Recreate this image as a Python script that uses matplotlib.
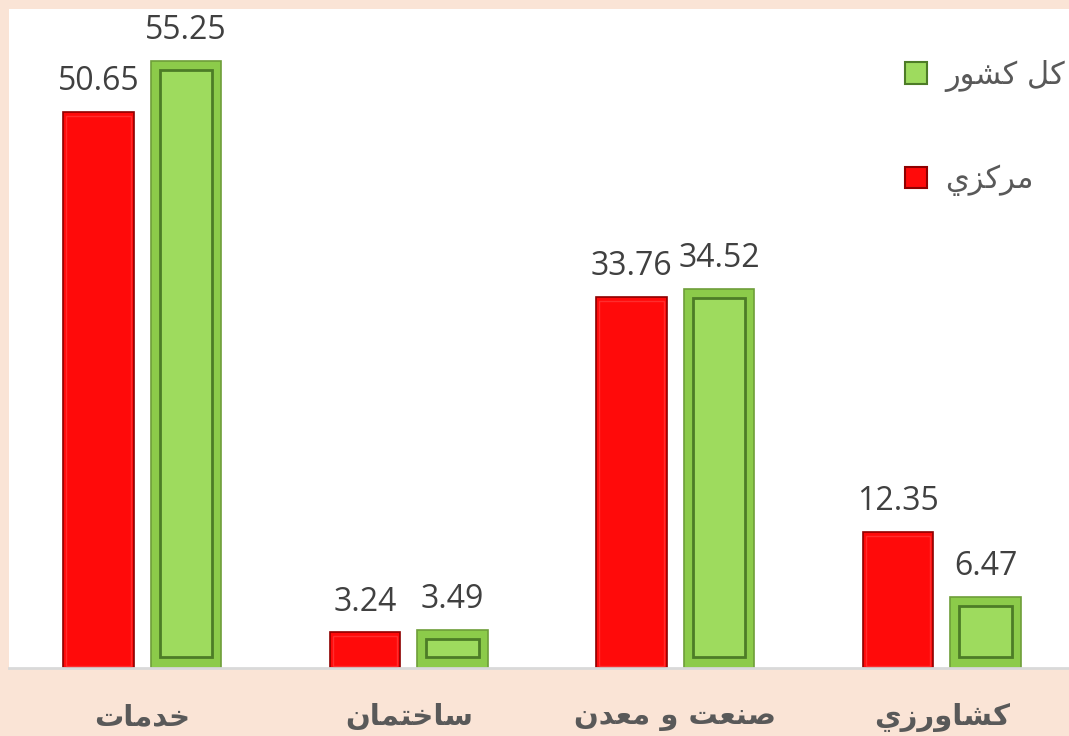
import numpy as np
import matplotlib
matplotlib.use("Agg")
import matplotlib.pyplot as plt
from matplotlib.patches import Patch

# ---------------------------------------------------------------------------
# Data
# ---------------------------------------------------------------------------
categories = ["خدمات", "ساختمان", "صنعت و معدن", "كشاورزي"]
markazi = [50.65, 3.24, 33.76, 12.35]
kol_keshvar = [55.25, 3.49, 34.52, 6.47]
series_names = ["كل كشور", "مركزي"]

# ---------------------------------------------------------------------------
# Minimal Arabic-script shaping (matplotlib has no bidi / joining support)
# (isolated, final, initial, medial); None = letter never joins to the next one
# ---------------------------------------------------------------------------
FORMS = {
    "ا": ("\ufe8d", "\ufe8e", None, None),
    "ت": ("\ufe95", "\ufe96", "\ufe97", "\ufe98"),
    "خ": ("\ufea5", "\ufea6", "\ufea7", "\ufea8"),
    "د": ("\ufea9", "\ufeaa", None, None),
    "ر": ("\ufead", "\ufeae", None, None),
    "ز": ("\ufeaf", "\ufeb0", None, None),
    "س": ("\ufeb1", "\ufeb2", "\ufeb3", "\ufeb4"),
    "ش": ("\ufeb5", "\ufeb6", "\ufeb7", "\ufeb8"),
    "ص": ("\ufeb9", "\ufeba", "\ufebb", "\ufebc"),
    "ع": ("\ufec9", "\ufeca", "\ufecb", "\ufecc"),
    "ك": ("\ufed9", "\ufeda", "\ufedb", "\ufedc"),
    "ل": ("\ufedd", "\ufede", "\ufedf", "\ufee0"),
    "م": ("\ufee1", "\ufee2", "\ufee3", "\ufee4"),
    "ن": ("\ufee5", "\ufee6", "\ufee7", "\ufee8"),
    "و": ("\ufeed", "\ufeee", None, None),
    "ي": ("\ufef1", "\ufef2", "\ufef3", "\ufef4"),
}


def shape(text):
    out = []
    for i, c in enumerate(text):
        if c not in FORMS:
            out.append(c)
            continue
        prev = text[i - 1] if i > 0 else None
        nxt = text[i + 1] if i + 1 < len(text) else None
        iso, fin, ini, med = FORMS[c]
        join_prev = prev in FORMS and FORMS[prev][2] is not None
        join_next = nxt in FORMS and ini is not None
        if join_prev and join_next:
            out.append(med)
        elif join_prev:
            out.append(fin)
        elif join_next:
            out.append(ini)
        else:
            out.append(iso)
    return "".join(reversed(out))


# ---------------------------------------------------------------------------
# Plot
# ---------------------------------------------------------------------------
plt.rcParams["font.family"] = ["DejaVu Sans"]

peach = "#FAE4D6"
red, red_edge = "#FF0A0A", "#8E0000"
green, green_inner, green_edge = "#8CCB4A", "#9EDB5E", "#4D7C27"

fig = plt.figure(figsize=(10.69, 7.36), dpi=100, facecolor=peach)
ax = fig.add_axes([9 / 1069, 68 / 736, 1060 / 1069, 659 / 736])
ax.set_facecolor("white")

x = np.arange(len(categories))
w = 0.263
off = 0.164
ax.set_xlim(-0.5, 3.5 - 6 / 266.5)
ax.set_ylim(0, 60)

px_x = 1 / 266.5   # one pixel in data units
px_y = 1 / 10.97

# red bars (مركزي)
ax.bar(x - off, markazi, w, color=red, edgecolor=red_edge, linewidth=1.2, zorder=2)
ax.bar(x - off, np.array(markazi) - 6 * px_y, w - 6 * px_x, bottom=2 * px_y,
       color="none", edgecolor="#FF5050", linewidth=1.0, alpha=0.5, zorder=3)

# green bars (كل كشور) with bevel
ax.bar(x + off, kol_keshvar, w, color=green, edgecolor="#6E9E3A", linewidth=1.2, zorder=2)
ax.bar(x + off, np.array(kol_keshvar) - 20 * px_y, w - 18 * px_x, bottom=11 * px_y,
       color=green_inner, edgecolor=green_edge, linewidth=2.0, zorder=3)

for xi, v in zip(x - off, markazi):
    ax.annotate(f"{v:.2f}", (xi, v), xytext=(0, 10), textcoords="offset points",
                ha="center", va="bottom", fontsize=23, color="#404040",
                family=["Open Sans", "DejaVu Sans"])
for xi, v in zip(x + off, kol_keshvar):
    ax.annotate(f"{v:.2f}", (xi, v), xytext=(0, 10), textcoords="offset points",
                ha="center", va="bottom", fontsize=23, color="#404040",
                family=["Open Sans", "DejaVu Sans"])

ax.set_xticks(x)
ax.set_xticklabels([shape(c) for c in categories], fontsize=21, fontweight="bold",
                   color="#595959")
ax.tick_params(axis="x", length=0, pad=25)
ax.set_yticks([])
for s in ["top", "left", "right"]:
    ax.spines[s].set_visible(False)
ax.spines["bottom"].set_color("#D9D9D9")
ax.spines["bottom"].set_linewidth(2)

handles = [Patch(facecolor=green_inner, edgecolor=green_edge, linewidth=1.5),
           Patch(facecolor=red, edgecolor=red_edge, linewidth=1.5)]
leg = ax.legend(handles, [shape(s) for s in series_names], loc="upper right",
                bbox_to_anchor=(1.022, 0.965), frameon=False, fontsize=22,
                labelcolor="#595959", handlelength=0.7, handleheight=0.7,
                handletextpad=0.6, labelspacing=2.4)

fig.savefig("out.png", dpi=100, facecolor=peach)
